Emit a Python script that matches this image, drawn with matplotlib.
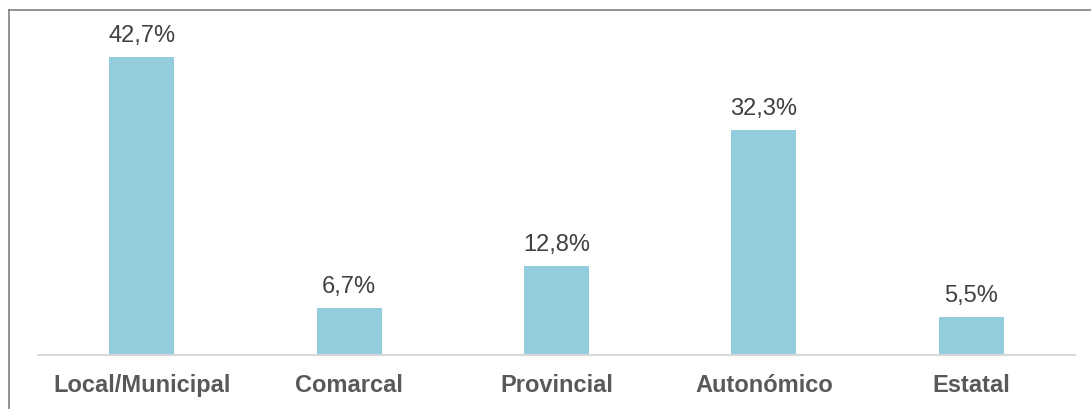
import matplotlib
matplotlib.use("Agg")
import matplotlib.pyplot as plt
from matplotlib.lines import Line2D

categories = ["Local/Municipal", "Comarcal", "Provincial", "Autonómico", "Estatal"]
values = [42.7, 6.7, 12.8, 32.3, 5.5]
labels = ["42,7%", "6,7%", "12,8%", "32,3%", "5,5%"]

W, H = 1091, 410
fig = plt.figure(figsize=(W / 100, H / 100), dpi=100)
plt.rcParams['font.family'] = ['Liberation Sans', 'DejaVu Sans']

ax_left, ax_right, ax_top, ax_bottom = 38, 1075, 17, 356
ax = fig.add_axes([ax_left / W, 1 - ax_bottom / H, (ax_right - ax_left) / W, (ax_bottom - ax_top) / H])

x = list(range(len(categories)))
ax.bar(x, values, width=0.313, color="#93CDDD", zorder=2)
ax.set_xlim(-0.5, 4.5)
ax.set_ylim(0, (ax_bottom - ax_top) / 6.98)

for xi, v, lab in zip(x, values, labels):
    ax.annotate(lab, (xi, v), xytext=(0, 11.5), textcoords="offset points",
                ha="center", va="baseline", fontsize=17, color="#404040")

ax.set_xticks(x)
ax.set_xticklabels(categories, fontsize=17, fontweight="bold", color="#595959")
ax.tick_params(axis="x", length=0, pad=13)
ax.set_yticks([])
for s in ["top", "right", "left"]:
    ax.spines[s].set_visible(False)
ax.spines["bottom"].set_color("#D9D9D9")
ax.spines["bottom"].set_linewidth(1.5)

# outer frame (top and left edges visible)
fx = 8.5 / W
fy = 1 - 11 / H
fig.add_artist(Line2D([fx, fx], [0, fy], transform=fig.transFigure, color="#808080", lw=1.2))
fig.add_artist(Line2D([fx, 1], [fy, fy], transform=fig.transFigure, color="#808080", lw=1.2))

fig.savefig("out.png", dpi=100)
